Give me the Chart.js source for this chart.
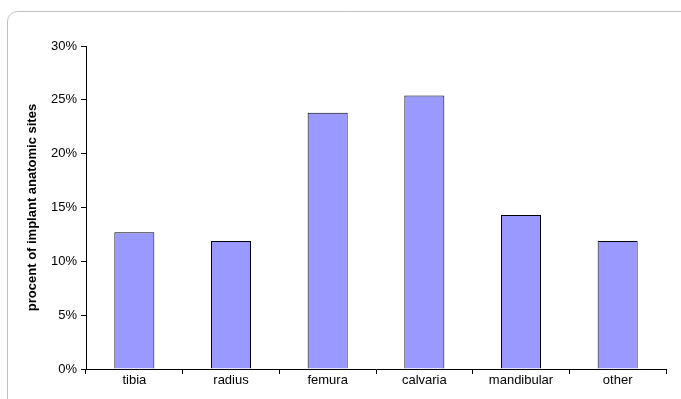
<!DOCTYPE html>
<html>
<head>
<meta charset="utf-8">
<script src="https://cdn.jsdelivr.net/npm/chart.js@4/dist/chart.umd.min.js"></script>
<style>
  html, body { margin: 0; padding: 0; background: #fff; }
  #wrap { position: relative; width: 681px; height: 399px; }
</style>
</head>
<body>
<div id="wrap"><canvas id="c" width="681" height="399"></canvas></div>
<script>
// Implant anatomic sites and their share of all implants (%)
const sites = ['tibia', 'radius', 'femura', 'calvaria', 'mandibular', 'other'];
const percentOfSites = [12.7, 11.9, 23.8, 25.4, 14.3, 11.9];
const yTicks = [0, 5, 10, 15, 20, 25, 30];

// Rounded frame around the whole chart
const framePlugin = {
  id: 'frame',
  beforeDraw(chart) {
    const ctx = chart.ctx;
    const x = 7.5, y = 11.5, w = 700, h = 420, r = 10;
    ctx.save();
    ctx.beginPath();
    ctx.moveTo(x + r, y);
    ctx.lineTo(x + w - r, y);
    ctx.arcTo(x + w, y, x + w, y + r, r);
    ctx.lineTo(x + w, y + h - r);
    ctx.arcTo(x + w, y + h, x + w - r, y + h, r);
    ctx.lineTo(x + r, y + h);
    ctx.arcTo(x, y + h, x, y + h - r, r);
    ctx.lineTo(x, y + r);
    ctx.arcTo(x, y, x + r, y, r);
    ctx.closePath();
    ctx.strokeStyle = '#c0c0c0';
    ctx.lineWidth = 1;
    ctx.stroke();
    ctx.restore();
  }
};

const tickFont = { family: '"Liberation Sans", Arial, sans-serif', size: 13 };

new Chart(document.getElementById('c'), {
  type: 'bar',
  data: {
    labels: sites,
    datasets: [{
      data: percentOfSites,
      backgroundColor: '#9999FF',
      borderColor: '#000000',
      borderWidth: 1,
      categoryPercentage: 1,
      barPercentage: 0.414
    }]
  },
  options: {
    responsive: false,
    animation: false,
    layout: { padding: { left: 0, top: 46, right: 15, bottom: 0 } },
    plugins: { legend: { display: false }, tooltip: { enabled: false } },
    scales: {
      x: {
        grid: { display: true, offset: true, drawOnChartArea: false, drawTicks: true, tickLength: 5, color: '#000' },
        border: { display: true, color: '#000', width: 1 },
        ticks: { color: '#000', font: tickFont, padding: -1, maxRotation: 0 },
        afterFit(scale) { scale.height = 30; }
      },
      y: {
        min: 0,
        max: 30,
        afterBuildTicks(scale) { scale.ticks = yTicks.map(v => ({ value: v })); },
        grid: { display: true, drawOnChartArea: false, drawTicks: true, tickLength: 5, color: '#000' },
        border: { display: true, color: '#000', width: 1 },
        ticks: {
          color: '#000',
          font: tickFont,
          padding: 4,
          callback: v => v + '%'
        },
        title: {
          display: true,
          text: 'procent of implant anatomic sites',
          color: '#000',
          font: { family: '"Liberation Sans", Arial, sans-serif', size: 13, weight: 'bold' },
          padding: { top: 25, bottom: 0 }
        },
        afterFit(scale) { scale.width = 86; }
      }
    }
  },
  plugins: [framePlugin]
});
</script>
</body>
</html>
